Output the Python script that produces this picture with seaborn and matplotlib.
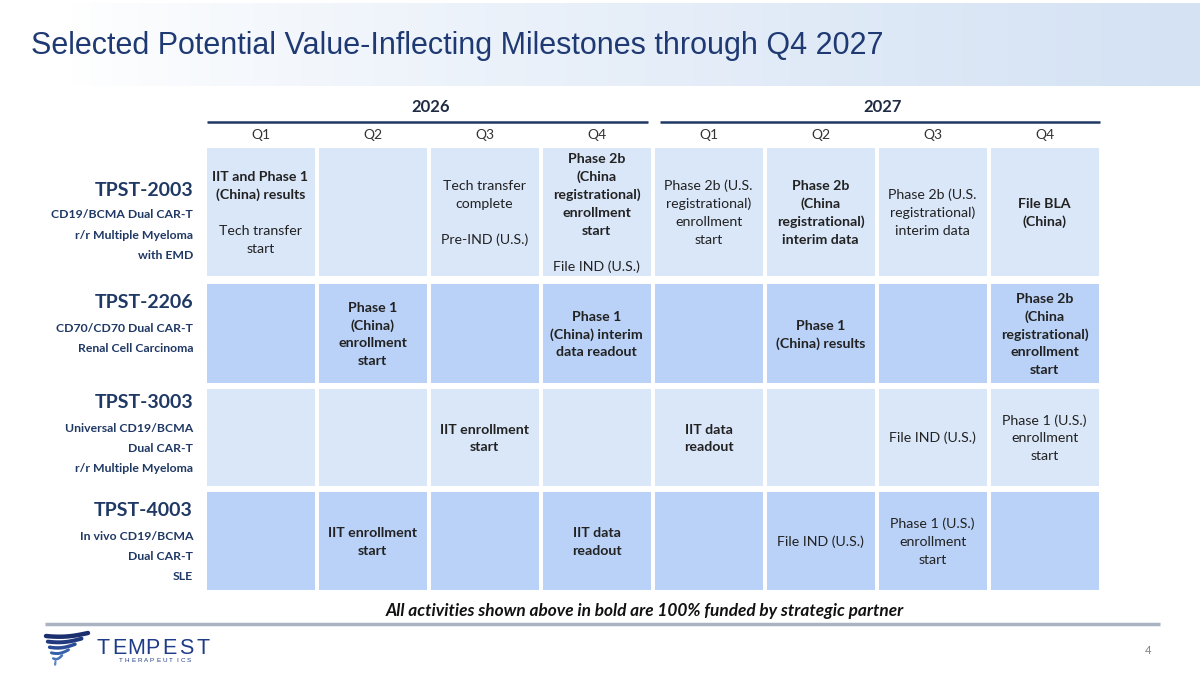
import numpy as np
import pandas as pd
import matplotlib
matplotlib.use("Agg")
import matplotlib.pyplot as plt
import seaborn as sns
from matplotlib.colors import ListedColormap

# ---------------- data ----------------
years = ["2026", "2027"]
quarters = ["Q1", "Q2", "Q3", "Q4", "Q1", "Q2", "Q3", "Q4"]
products = ["TPST-2003", "TPST-2206", "TPST-3003", "TPST-4003"]
product_details = [
    ["CD19/BCMA Dual CAR-T", "r/r Multiple Myeloma", "with EMD"],
    ["CD70/CD70 Dual CAR-T", "Renal Cell Carcinoma"],
    ["Universal CD19/BCMA", "Dual CAR-T", "r/r Multiple Myeloma"],
    ["In vivo CD19/BCMA", "Dual CAR-T", "SLE"],
]
row_shade = [0, 1, 0, 1]

B, R = True, False
tpst2003_milestones = [
    [("IIT and Phase 1\n(China) results", B), ("Tech transfer\nstart", R)],
    [],
    [("Tech transfer\ncomplete", R), ("Pre-IND (U.S.)", R)],
    [("Phase 2b\n(China\nregistrational)\nenrollment\nstart", B), ("File IND (U.S.)", R)],
    [("Phase 2b (U.S.\nregistrational)\nenrollment\nstart", R)],
    [("Phase 2b\n(China\nregistrational)\ninterim data", B)],
    [("Phase 2b (U.S.\nregistrational)\ninterim data", R)],
    [("File BLA\n(China)", B)],
]
tpst2206_milestones = [
    [],
    [("Phase 1\n(China)\nenrollment\nstart", B)],
    [],
    [("Phase 1\n(China) interim\ndata readout", B)],
    [],
    [("Phase 1\n(China) results", B)],
    [],
    [("Phase 2b\n(China\nregistrational)\nenrollment\nstart", B)],
]
tpst3003_milestones = [
    [], [],
    [("IIT enrollment\nstart", B)],
    [],
    [("IIT data\nreadout", B)],
    [],
    [("File IND (U.S.)", R)],
    [("Phase 1 (U.S.)\nenrollment\nstart", R)],
]
tpst4003_milestones = [
    [],
    [("IIT enrollment\nstart", B)],
    [],
    [("IIT data\nreadout", B)],
    [],
    [("File IND (U.S.)", R)],
    [("Phase 1 (U.S.)\nenrollment\nstart", R)],
    [],
]
milestones = [tpst2003_milestones, tpst2206_milestones, tpst3003_milestones, tpst4003_milestones]

title = "Selected Potential Value-Inflecting Milestones through Q4 2027"
footnote = "All activities shown above in bold are 100% funded by strategic partner"

# ---------------- layout ----------------
W, H = 1200, 675
NAVY = "#1F3864"
TEXT = "#222222"
sns.set_theme(style="white")
plt.rcParams["font.family"] = ["Lato", "DejaVu Sans"]

fig = plt.figure(figsize=(12, 6.75), dpi=100)
fig.patch.set_facecolor("white")

ax0 = fig.add_axes([0, 0, 1, 1])
ax0.set_xlim(0, W)
ax0.set_ylim(H, 0)
ax0.axis("off")

# title band gradient
xs = np.linspace(0, 1, 600)
t = np.clip((xs - 0.06) / 0.94, 0, 1) ** 0.8
c0 = np.array([1.0, 1.0, 1.0])
c1 = np.array([0xD4, 0xE2, 0xF4]) / 255
grad = (c0[None, :] * (1 - t[:, None]) + c1[None, :] * t[:, None])[None, :, :]
ax0.imshow(grad, extent=[0, W, 86, 3], aspect="auto", zorder=0)
ax0.text(31, 46, title, fontsize=22, family=["Liberation Sans", "DejaVu Sans"],
         color="#1F3A73", va="center", ha="left", zorder=2)

# year headers
grid_left, col_w = 204.5, 112.0
year_spans = [(207, 648), (660, 1100)]
for yr, (x0, x1) in zip(years, year_spans):
    ax0.text((x0 + x1) / 2 + 3, 107, yr, fontsize=12, fontweight="bold",
             color="#1F2A44", ha="center", va="center")
    ax0.plot([x0, x1], [122, 122], color=NAVY, lw=1.8, solid_capstyle="butt")
for i, q in enumerate(quarters):
    ax0.text(grid_left + col_w * (i + 0.5), 135, q, fontsize=10, color="#333333",
             ha="center", va="center")

# grid rows as heatmaps
row_bounds = [(146, 278), (282, 385), (387, 488), (490, 592)]
label_top = [190, 303, 403, 511]
cmap = ListedColormap(["#DAE7F9", "#BAD2F7"])
LS = 12.9  # line spacing in points (18 px)


def fig_rect(x0, y0, x1, y1):
    return [x0 / W, 1 - y1 / H, (x1 - x0) / W, (y1 - y0) / H]


for r, (top, bot) in enumerate(row_bounds):
    ax = fig.add_axes(fig_rect(grid_left, top, grid_left + 8 * col_w, bot))
    df = pd.DataFrame([[row_shade[r]] * len(quarters)])
    sns.heatmap(df, ax=ax, cmap=cmap, vmin=0, vmax=1, cbar=False,
                linewidths=1.6, linecolor="white",
                xticklabels=False, yticklabels=False)
    ax.set_xlabel("")
    ax.set_ylabel("")
    for i, segs in enumerate(milestones[r]):
        lines = []
        for k, (txt, bold) in enumerate(segs):
            if k > 0:
                lines.append(("", False))
            for ln in txt.split("\n"):
                lines.append((ln, bold))
        n = len(lines)
        for j, (ln, bold) in enumerate(lines):
            if not ln:
                continue
            off = ((n - 1) / 2 - j) * LS - 3.6
            ax.annotate(ln, xy=(i + 0.5, 0.5), xycoords="data",
                        xytext=(0, off), textcoords="offset points",
                        ha="center", va="baseline", fontsize=10.2,
                        fontweight="bold" if bold else "normal",
                        color=TEXT, annotation_clip=False)

    # row labels
    ax0.text(193, label_top[r], products[r], fontsize=14, fontweight="bold",
             color=NAVY, ha="right", va="center")
    for k, d in enumerate(product_details[r]):
        ax0.text(193, label_top[r] + 25 + 20.3 * k, d, fontsize=8.8,
                 fontweight="bold", color=NAVY, ha="right", va="center")

# footnote
ax0.text(645, 611, footnote, fontsize=12.4, fontweight="bold", fontstyle="italic",
         color="#111111", ha="center", va="center")
ax0.plot([45, 1160], [624, 624], color="#A9B3C1", lw=2.5, solid_capstyle="butt")
ax0.text(1148, 651, "4", fontsize=8, color="#7F7F7F", ha="center", va="center")

# logo
for s in range(6):
    y0 = 636 + s * 5.6
    xl = 46 + s * 1.8
    xr = 88 - s * 6.5
    tt = np.linspace(0, 1, 40)
    xx = xl + (xr - xl) * tt
    yy = y0 - 3.0 * tt ** 1.5 + 1.5 * np.sin(np.pi * tt)
    ax0.plot(xx, yy, color=["#1B2F6E", "#20397F", "#2A4B95", "#3560AA",
                            "#4674BC", "#5B88C8"][s],
             lw=3.2 - s * 0.35, solid_capstyle="round")
for k, ch in enumerate("TEMPEST"):
    ax0.text(103 + k * 16.6, 648, ch, fontsize=15.5, color="#1F3C88",
             family=["Liberation Sans", "DejaVu Sans"], ha="center", va="center")
for k, ch in enumerate("THERAPEUTICS"):
    ax0.text(121 + k * 6.2, 661, ch, fontsize=4.5, color="#1F3C88",
             family=["Liberation Sans", "DejaVu Sans"], ha="center", va="center")

fig.savefig("out.png", dpi=100, facecolor="white")
